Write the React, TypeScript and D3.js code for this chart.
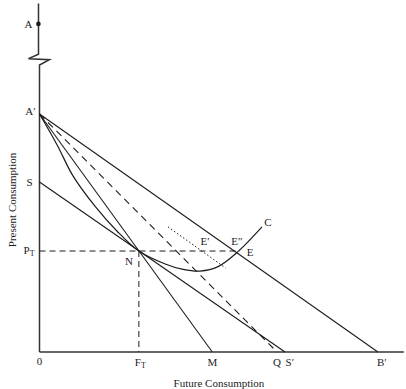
import React from "react";
import * as d3 from "d3";

// ---- data (x = future consumption, y = present consumption) ----
const pointA: [number, number] = [-0.3, 96.5];
const pointAprime: [number, number] = [0, 70];
const pointS: [number, number] = [0, 50];
const pointN: [number, number] = [27.6, 29.7];
const pointM: [number, number] = [48, 0];
const pointQ: [number, number] = [66, 0];
const pointSprime: [number, number] = [68.2, 0];
const pointBprime: [number, number] = [94, 0];
const pointEdd: [number, number] = [54.9, 29.7];
const dottedLine: [number, number][] = [[35.7, 36.8], [51.7, 24.7]];
const curveAC: [number, number][] = [
  [0, 70], [4.9, 60.9], [9.3, 51.8], [15.4, 42.9], [21.5, 35.6], [27.6, 29.7],
  [34.9, 25.9], [39.9, 24.3], [44.6, 23.8], [49.6, 25.1], [54.9, 29.3], [61.8, 36.8],
];
const axisTop = 102.5;
const axisRight = 101.2;
const breakRange = [87.6, 84.4];

const W = 406, H = 389;
const x = d3.scaleLinear().domain([0, 100]).range([39.5, 399.5]);
const y = d3.scaleLinear().domain([0, 100]).range([352, 12]);

const FONT = "'Liberation Serif', 'Times New Roman', serif";
const INK = "#1c1c1c";

function Label({ px, py, text, sub, anchor = "middle", size = 11 }: any) {
  return (
    <text x={px} y={py} textAnchor={anchor} dominantBaseline="central" fontFamily={FONT} fontSize={size} fill={INK}>
      {text}
      {sub ? <tspan fontSize={8} dy={3}>{sub}</tspan> : null}
    </text>
  );
}

export default function App() {
  const line = d3.line<[number, number]>().x(d => x(d[0])).y(d => y(d[1]));
  const curve = d3.line<[number, number]>().x(d => x(d[0])).y(d => y(d[1])).curve(d3.curveCatmullRom.alpha(0.5));
  const ax0 = x(0);
  const yb1 = y(breakRange[0]);
  const yb2 = y(breakRange[1]);
  const yAxisPath = `M${ax0 - 1},${y(axisTop)} L${ax0 - 1},${yb1} L${ax0 - 11},${yb1 + 4.5} L${ax0 + 10},${yb1 + 5.5} L${ax0},${yb2} L${ax0},${y(0)}`;
  return (
    <svg width={W} height={H} style={{ position: "absolute", left: 0, top: 0, background: "#fff" }}>
      {/* axes */}
      <path d={yAxisPath} fill="none" stroke="#333" strokeWidth={1.5} />
      <line x1={ax0} x2={x(axisRight)} y1={y(0)} y2={y(0)} stroke="#333" strokeWidth={1.6} />
      <circle cx={x(pointA[0])} cy={y(pointA[1])} r={2.3} fill={INK} />

      {/* straight lines */}
      <path d={line([pointAprime, pointBprime])!} fill="none" stroke={INK} strokeWidth={1.1} />
      <path d={line([pointS, pointSprime])!} fill="none" stroke={INK} strokeWidth={1.1} />
      <path d={line([pointAprime, pointM])!} fill="none" stroke={INK} strokeWidth={1.1} />
      <path d={line([pointAprime, pointQ])!} fill="none" stroke={INK} strokeWidth={1.1} strokeDasharray="7,5" />
      <path d={line(dottedLine)!} fill="none" stroke={INK} strokeWidth={1} strokeDasharray="1.5,2.2" />
      {/* P_T and F_T guides */}
      <path d={line([[0, pointN[1]], pointEdd])!} fill="none" stroke={INK} strokeWidth={1} strokeDasharray="6,4" />
      <path d={line([pointN, [pointN[0], 0]])!} fill="none" stroke={INK} strokeWidth={1} strokeDasharray="6,4" />

      {/* curve */}
      <path d={curve(curveAC)!} fill="none" stroke={INK} strokeWidth={1.2} />

      {/* labels */}
      <Label px={x(pointA[0]) - 10} py={y(pointA[1])} text="A" />
      <Label px={ax0 - 9} py={y(pointAprime[1]) - 3} text="A′" />
      <Label px={ax0 - 10} py={y(pointS[1])} text="S" />
      <Label px={ax0 - 16} py={y(pointN[1]) - 1} text="P" sub="T" anchor="start" />
      <Label px={x(pointN[0]) - 10} py={y(pointN[1]) + 10} text="N" />
      <Label px={x(0)} py={361} text="0" />
      <Label px={x(pointN[0]) - 4} py={362} text="F" sub="T" anchor="start" />
      <Label px={x(pointM[0])} py={362} text="M" />
      <Label px={x(pointQ[0])} py={362} text="Q" />
      <Label px={x(pointSprime[0]) + 0.5} py={362} text="S′" anchor="start" />
      <Label px={x(pointBprime[0]) - 1} py={362} text="B′" anchor="start" />
      <Label px={205} py={y(pointN[1]) - 10} text="E′" />
      <Label px={237} py={y(pointN[1]) - 10} text="E″" />
      <Label px={250} py={y(pointN[1]) + 1} text="E" />
      <Label px={268} py={222} text="C" />
      <text x={219} y={383} textAnchor="middle" dominantBaseline="central" fontFamily={FONT} fontSize={11} fill={INK}>Future Consumption</text>
      <text transform="translate(12,200) rotate(-90)" textAnchor="middle" dominantBaseline="central" fontFamily={FONT} fontSize={11} fill={INK}>Present Consumption</text>
    </svg>
  );
}
